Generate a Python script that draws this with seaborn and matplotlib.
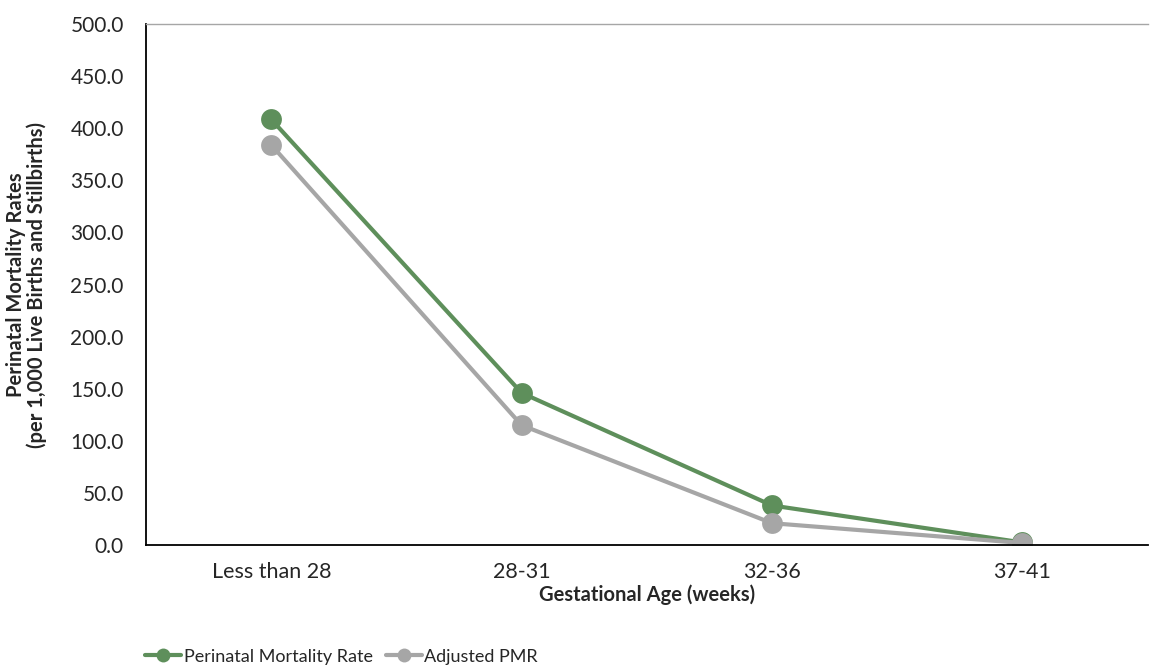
import matplotlib
matplotlib.use("Agg")
import matplotlib.pyplot as plt
import numpy as np
import pandas as pd
import seaborn as sns

# data
ages = ["Less than 28", "28-31", "32-36", "37-41"]
pmr = [408.5, 146.0, 38.0, 2.5]
adjusted_pmr = [384.0, 115.0, 21.0, 2.0]
series_names = ["Perinatal Mortality Rate", "Adjusted PMR"]
palette = {"Perinatal Mortality Rate": "#5E8F5B", "Adjusted PMR": "#A6A6A6"}

df = pd.concat([
    pd.DataFrame({"age": ages, "rate": pmr, "series": series_names[0]}),
    pd.DataFrame({"age": ages, "rate": adjusted_pmr, "series": series_names[1]}),
])

sns.set_theme(style="white")
plt.rcParams["font.family"] = ["Lato", "DejaVu Sans"]

fig = plt.figure(figsize=(11.5, 6.68), dpi=100)
ax = fig.add_axes([0.127, 0.184, 0.871, 0.78])

sns.lineplot(data=df, x="age", y="rate", hue="series", hue_order=series_names,
             palette=palette, marker="o", markersize=15, markeredgewidth=0,
             linewidth=3, sort=False, ax=ax, legend=True)

ax.set_ylim(0, 500)
ax.set_xlim(-0.5, len(ages) - 0.5)
ax.set_yticks(np.arange(0, 501, 50))
ax.set_yticklabels([f"{v:.1f}" for v in np.arange(0, 501, 50)], fontsize=15)

# category labels at centres, tick marks at boundaries
ax.set_xticks(np.arange(len(ages)))
ax.set_xticklabels(ages, fontsize=15.5)
ax.tick_params(axis="x", which="major", length=0, pad=12)
ax.set_xticks(np.arange(-0.5, len(ages), 1.0), minor=True)
ax.tick_params(axis="x", which="minor", length=6, width=1.2, color="black", direction="out")
ax.tick_params(axis="y", length=8, width=1.2, color="black", direction="inout", pad=12)

for side in ["left", "bottom"]:
    ax.spines[side].set_color("black")
    ax.spines[side].set_linewidth(1.3)
ax.spines["top"].set_color("#A6A6A6")
ax.spines["top"].set_linewidth(1)
ax.spines["right"].set_visible(False)

ax.set_xlabel("Gestational Age (weeks)", fontsize=14.5, fontweight="bold", labelpad=2)
ax.set_ylabel("Perinatal Mortality Rates\n(per 1,000 Live Births and Stillbirths)",
              fontsize=14.5, fontweight="bold", labelpad=17, linespacing=1.0)

handles, labels = ax.get_legend_handles_labels()
leg = ax.legend(handles, labels, loc="lower left", bbox_to_anchor=(0.12, -0.006),
                bbox_transform=fig.transFigure, ncol=2, frameon=False, fontsize=13,
                handlelength=2.0, handletextpad=0.15, columnspacing=0.7, borderaxespad=0)
for h in leg.legend_handles:
    h.set_markersize(10)

fig.savefig("out.png", dpi=100)
